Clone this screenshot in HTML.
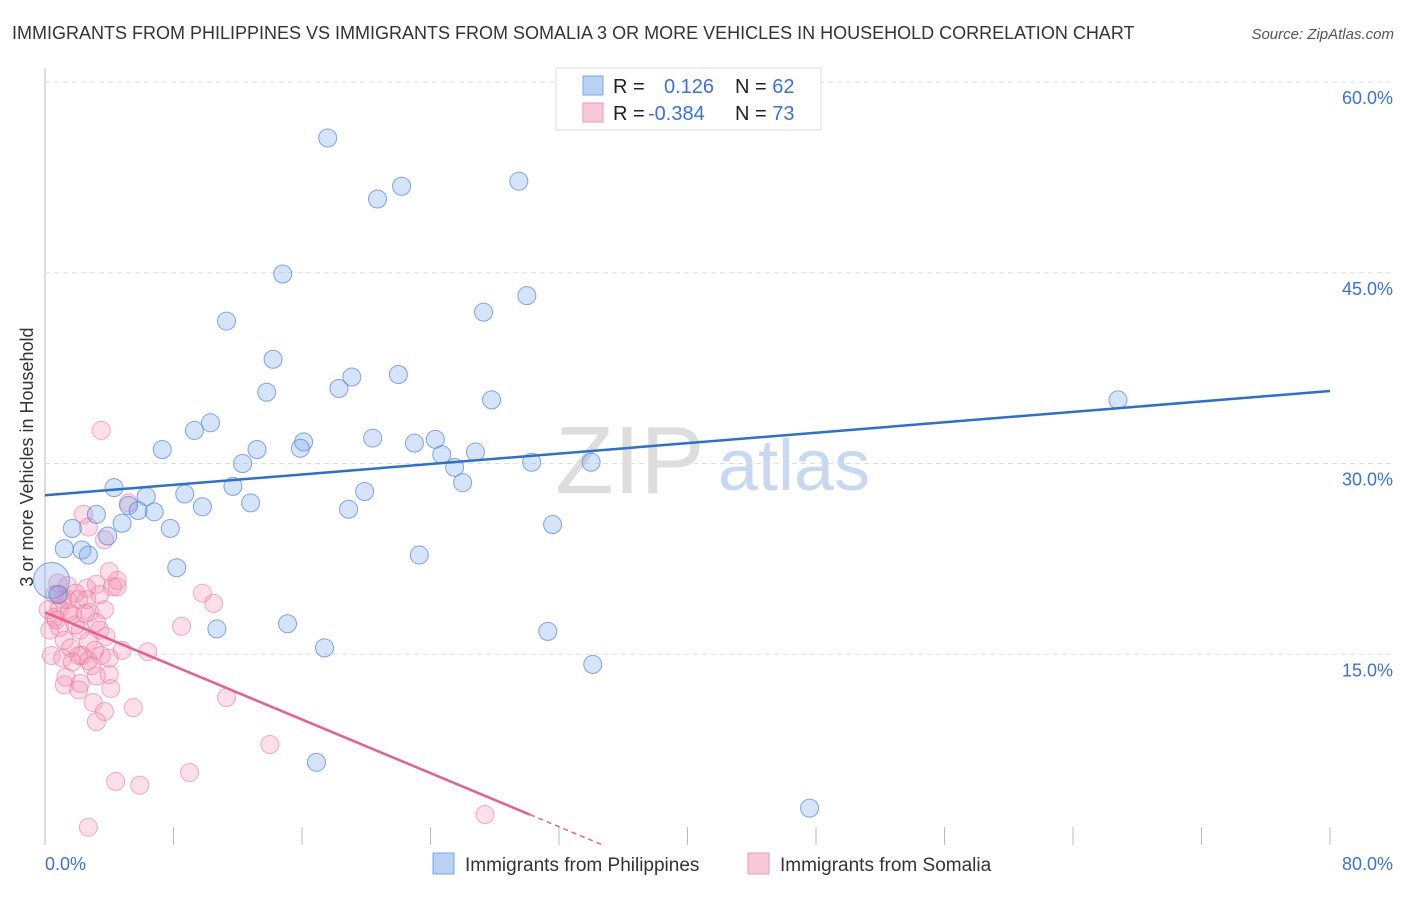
<!DOCTYPE html>
<html><head><meta charset="utf-8"><style>
body{margin:0;background:#fff;font-family:"Liberation Sans",sans-serif;}
svg text{font-family:"Liberation Sans",sans-serif;}
</style></head><body>
<svg id="chart" width="1406" height="892">
<text x="12" y="39" font-size="18" fill="#333">IMMIGRANTS FROM PHILIPPINES VS IMMIGRANTS FROM SOMALIA 3 OR MORE VEHICLES IN HOUSEHOLD CORRELATION CHART</text>
<text x="1394" y="39" font-size="15" fill="#555" text-anchor="end" font-style="italic">Source: ZipAtlas.com</text>
<text x="33" y="457" font-size="18" fill="#333" text-anchor="middle" transform="rotate(-90 33 457)">3 or more Vehicles in Household</text>
<text x="555" y="493" font-size="96" fill="#ddd" font-family="Liberation Serif">ZIP</text>
<text x="718" y="490" font-size="72" fill="#c8d8f0">atlas</text>
<g id="grid"></g><g id="pts"></g><g id="lines"></g>
<g>
<rect x="556" y="68" width="265" height="62" fill="#fff" stroke="#ddd"/>
<rect x="583" y="76" width="20" height="19" fill="#b8d2f5" stroke="#7aa6e6"/>
<rect x="583" y="103" width="20" height="19" fill="#fac8d8" stroke="#ee9ab5"/>
<text x="613" y="93" font-size="20" fill="#222">R = <tspan fill="#3a72d8" x="664">0.126</tspan><tspan x="735" fill="#222">N = </tspan><tspan fill="#3a72d8">62</tspan></text>
<text x="613" y="120" font-size="20" fill="#222">R = <tspan fill="#3a72d8" x="648">-0.384</tspan><tspan x="735" fill="#222">N = </tspan><tspan fill="#3a72d8">73</tspan></text>
</g>
<g>
<rect x="433" y="853" width="21" height="21" fill="#b8d2f5" stroke="#7aa6e6"/>
<text x="465" y="871" font-size="19" fill="#333">Immigrants from Philippines</text>
<rect x="748" y="853" width="21" height="21" fill="#fac8d8" stroke="#ee9ab5"/>
<text x="780" y="871" font-size="19" fill="#333">Immigrants from Somalia</text>
</g>
</svg>
<script>
const blueX=[17.6,22.2,20.7,29.5,14.8,30.0,27.3,11.3,14.2,19.1,22.0,13.8,18.3,27.8,66.8,10.3,9.3,7.3,16.1,15.9,13.2,20.4,23.0,24.3,24.7,26.8,12.3,25.5,30.3,34.0,11.7,19.9,26.0,4.3,8.7,6.3,5.2,9.8,12.8,5.8,6.8,18.9,3.2,4.8,1.7,7.8,31.6,3.9,1.2,2.3,2.7,23.3,8.2,0.4,0.8,15.1,10.7,31.3,17.4,34.1,16.9,47.6];
const blueY=[55.6,51.8,50.8,52.2,44.9,43.2,41.9,41.2,38.2,36.8,37.0,35.6,35.9,35.0,35.0,33.2,32.6,31.1,31.7,31.2,31.1,32.0,31.6,31.9,30.7,30.9,30.0,29.7,30.1,30.1,28.2,27.8,28.5,28.1,27.6,27.4,26.7,26.6,26.9,26.3,26.2,26.4,26.0,25.3,24.9,24.9,25.2,24.3,23.3,23.2,22.8,22.8,21.8,20.8,19.7,17.4,17.0,16.8,15.5,14.2,6.5,2.9];
const pinkX=[3.5,5.2,2.4,3.7,2.7,4.0,0.8,1.4,4.5,2.6,3.2,1.9,4.2,0.6,1.1,2.1,0.2,0.9,2.8,3.7,0.6,1.7,3.2,0.9,2.2,3.4,3.8,0.3,1.2,2.7,1.6,3.1,9.8,10.5,8.5,6.4,0.4,1.1,2.1,2.7,3.5,1.7,4.8,1.3,3.2,4.0,1.2,2.2,4.1,3.0,3.7,5.5,3.2,11.3,14.0,9.0,4.4,5.9,2.7,27.4,2.3,3.4,0.9,0.7,2.6,4.5,1.9,1.5,4.0,2.1,2.9,1.4,2.5];
const pinkY=[32.6,26.9,26.0,24.0,25.0,21.5,20.6,20.4,20.8,20.2,20.5,19.8,20.3,19.7,19.3,19.3,18.5,18.6,18.3,18.5,17.9,18.1,17.5,17.1,16.9,16.9,16.4,16.9,16.1,16.0,15.5,15.3,19.8,19.0,17.2,15.2,14.9,14.7,14.9,14.5,14.9,14.4,15.3,13.2,13.3,13.4,12.6,12.7,12.3,11.2,10.5,10.8,9.7,11.6,7.9,5.7,5.0,4.7,1.4,2.4,14.9,19.7,19.7,17.7,19.3,20.3,17.3,18.3,14.7,12.2,14.1,19.3,18.2];
const blueTrend=[27.5,35.7];
const pinkTrend=[18.3,-0.527];
const yTicks=[15,30,45,60];
const xTicks=[0,8,16,24,32,40,48,56,64,72,80];
const NS="http://www.w3.org/2000/svg";
const X=v=>45+v/80*1285, Y=v=>845-v/60*763;
function mk(p,t,a){const e=document.createElementNS(NS,t);for(const k in a)e.setAttribute(k,a[k]);p.appendChild(e);return e;}
const grid=document.getElementById('grid'),pts=document.getElementById('pts'),lines=document.getElementById('lines');
let ax=mk(grid,'line',{x1:45,y1:68,x2:45,y2:845,stroke:'#bbb'});


yTicks.forEach(t=>{
 const l=mk(grid,'line',{x1:45,x2:1393,y1:Y(t),y2:Y(t),stroke:'#ddd','stroke-dasharray':'5,4'});
 
 
 const tx=mk(grid,'text',{x:1393,y:Y(t)+22,'font-size':18,fill:'#3a72d8','text-anchor':'end'});
 tx.textContent=t.toFixed(1)+'%';
 
 
});
xTicks.forEach(t=>{
 const l=mk(grid,'line',{x1:X(t),x2:X(t),y1:827,y2:845,stroke:'#bbb'});
 
 
});
[[0,'0.0%','start',45],[80,'80.0%','end',1393]].forEach(d=>{
 const tx=mk(grid,'text',{x:d[3],y:870,'font-size':18,fill:'#3a72d8','text-anchor':d[2]});
 tx.textContent=d[1];
 
 
});
pinkX.forEach((x,i)=>{
 const c=mk(pts,'circle',{cx:X(x),cy:Y(pinkY[i]),r:9,fill:'rgba(244,150,180,0.3)',stroke:'rgba(230,120,160,0.6)'});
 
 
});
blueX.forEach((x,i)=>{
 const c=mk(pts,'circle',{cx:X(x),cy:Y(blueY[i]),r:i==53?18:9,fill:'rgba(120,165,235,0.3)',stroke:'rgba(80,130,215,0.7)'});
 
 
});
let bl=mk(lines,'line',{x1:X(0),y1:Y(blueTrend[0]),x2:X(80),y2:Y(blueTrend[1]),stroke:'#2a6fd6','stroke-width':2.5});


const pEnd=30.2, pZero=-pinkTrend[0]/pinkTrend[1];
let pl=mk(lines,'line',{x1:X(0),y1:Y(pinkTrend[0]),x2:X(pEnd),y2:Y(pinkTrend[0]+pinkTrend[1]*pEnd),stroke:'#e8608a','stroke-width':2.5});


let pd=mk(lines,'line',{x1:X(pEnd),y1:Y(pinkTrend[0]+pinkTrend[1]*pEnd),x2:X(pZero),y2:Y(0),stroke:'#e8608a','stroke-width':1.5,'stroke-dasharray':'5,4'});


</script>
</body></html>
